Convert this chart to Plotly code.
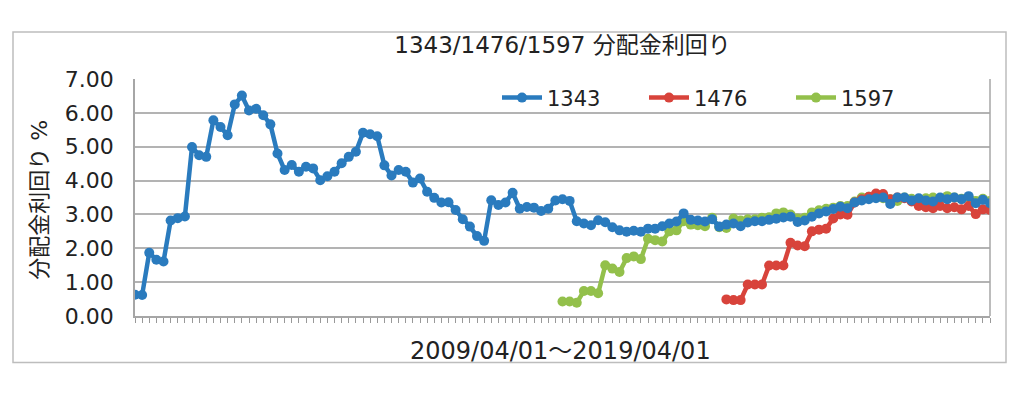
import pandas as pd
import plotly.graph_objects as go

# Monthly observations 2009/04 .. 2019/04 (121 months)
months = [d.strftime("%Y/%m/%d") for d in pd.date_range("2009-04-01", "2019-04-01", freq="MS")]

y_1343 = [0.63, 0.62, 1.87, 1.66, 1.61, 2.82, 2.89, 2.94, 4.99, 4.75,
          4.70, 5.78, 5.58, 5.34, 6.25, 6.51, 6.07, 6.12, 5.93, 5.66,
          4.80, 4.31, 4.46, 4.26, 4.41, 4.36, 4.01, 4.13, 4.26, 4.51,
          4.70, 4.85, 5.41, 5.37, 5.31, 4.45, 4.15, 4.31, 4.26, 3.94,
          4.06, 3.67, 3.49, 3.35, 3.36, 3.13, 2.86, 2.64, 2.36, 2.22,
          3.42, 3.28, 3.35, 3.64, 3.17, 3.22, 3.20, 3.10, 3.17, 3.41,
          3.45, 3.40, 2.80, 2.73, 2.68, 2.83, 2.77, 2.62, 2.53, 2.49,
          2.52, 2.49, 2.58, 2.58, 2.65, 2.73, 2.79, 3.03, 2.84, 2.82,
          2.79, 2.86, 2.64, 2.70, 2.73, 2.65, 2.76, 2.80, 2.80, 2.84,
          2.87, 2.91, 2.93, 2.78, 2.82, 2.93, 3.03, 3.09, 3.16, 3.23,
          3.18, 3.35, 3.41, 3.45, 3.48, 3.50, 3.31, 3.50, 3.50, 3.41,
          3.48, 3.41, 3.38, 3.50, 3.45, 3.50, 3.45, 3.54, 3.33, 3.43,
          3.33]

y_1476 = [None] * 83 + [
          0.49, 0.47, 0.47, 0.93, 0.93, 0.93, 1.49, 1.49, 1.49, 2.16,
          2.08, 2.06, 2.50, 2.55, 2.58, 2.88, 3.00, 2.99, 3.35, 3.45,
          3.52, 3.62, 3.60, 3.45, 3.50, 3.48, 3.38, 3.25, 3.21, 3.18,
          3.25, 3.18, 3.21, 3.15, 3.25, 3.01, 3.15, 3.13]

y_1597 = [None] * 60 + [
          0.43, 0.43, 0.39, 0.74, 0.74, 0.67, 1.50, 1.40, 1.30, 1.71,
          1.76, 1.68, 2.28, 2.24, 2.20, 2.50, 2.53, 2.80, 2.70, 2.68,
          2.65, 2.90, 2.62, 2.60, 2.88, 2.82, 2.86, 2.86, 2.90, 2.92,
          3.03, 3.06, 3.00, 2.88, 2.90, 3.06, 3.12, 3.17, 3.20, 3.25,
          3.25, 3.38, 3.50, 3.52, 3.52, 3.48, 3.45, 3.40, 3.50, 3.46,
          3.45, 3.48, 3.50, 3.46, 3.54, 3.50, 3.46, 3.50, 3.40, 3.46,
          3.40]

names = ["1343", "1476", "1597"]
colors = {"1343": "#2A7BBE", "1476": "#D8433B", "1597": "#93C04B"}
series = {"1343": y_1343, "1476": y_1476, "1597": y_1597}
ranks = {"1343": 1, "1476": 2, "1597": 3}

FONT = "DejaVu Sans, Noto Sans CJK JP"
TXT = "#222222"

fig = go.Figure()
for n in ["1597", "1476", "1343"]:
    fig.add_trace(go.Scatter(
        x=months, y=series[n], name=n, mode="lines+markers",
        line=dict(color=colors[n], width=4.5),
        marker=dict(color=colors[n], size=10, symbol="circle"),
        legendrank=ranks[n],
    ))

OFF = 8  # page body margin
W, H = 1024, 399
# reference plot area: x 135..990, y 79..316.5
L = 135 - OFF
T = 79 - OFF
pw, ph = 855, 237.5
R = W - L - pw
B = H - T - ph

def px(x):
    return (x - OFF - L) / pw

def py(y):
    return (T + ph - (y - OFF)) / ph

fig.update_layout(
    width=W, height=H,
    margin=dict(l=L, r=R, t=T, b=B, pad=0, autoexpand=False),
    paper_bgcolor="white", plot_bgcolor="white",
    font=dict(family=FONT, color=TXT, size=18),
    showlegend=True,
    legend=dict(orientation="h", x=px(497), y=py(98), xanchor="left", yanchor="middle",
                font=dict(family=FONT, size=21, color=TXT),
                entrywidth=92, entrywidthmode="pixels",
                bgcolor="rgba(0,0,0,0)", itemwidth=40, traceorder="normal"),
    title=dict(text="1343/1476/1597 分配金利回り", x=0.5, xref="paper", xanchor="center",
               y=1 - (45 - OFF) / H, yref="container", yanchor="middle",
               font=dict(family=FONT, size=23, color=TXT)),
)

fig.update_xaxes(
    type="category", range=[0, len(months) - 1], automargin=False,
    showticklabels=False, ticks="outside", ticklen=5, tickwidth=1, tickcolor="#999999",
    dtick=1, showline=True, linecolor="#a6a6a6", linewidth=2,
    showgrid=False, zeroline=False, mirror=False,
)
fig.update_yaxes(
    range=[0, 7], dtick=1, tickformat=".2f", automargin=False,
    tickfont=dict(family=FONT, size=22, color=TXT),
    showgrid=True, gridcolor="#b3b3b3", gridwidth=1.5,
    showline=True, linecolor="#a6a6a6", linewidth=1.5,
    zeroline=False, ticks="", ticklabelstandoff=15,
)

# right edge of the plot area
fig.add_shape(type="line", xref="paper", yref="paper", x0=1, x1=1, y0=0, y1=1,
              line=dict(color="#a6a6a6", width=1.5))
# chart-area border
fig.add_shape(type="rect", xref="paper", yref="paper",
              x0=px(13), x1=px(1006), y0=py(363), y1=py(32),
              line=dict(color="#bdbdbd", width=1.5), fillcolor="rgba(0,0,0,0)", layer="below")

fig.add_annotation(text="2009/04/01～2019/04/01", xref="paper", yref="paper",
                   x=px(560), y=py(352), xanchor="center", yanchor="middle", showarrow=False,
                   font=dict(family=FONT, size=24, color=TXT))
fig.add_annotation(text="分配金利回り %", xref="paper", yref="paper",
                   x=px(40), y=py(200), xanchor="center", yanchor="middle", showarrow=False,
                   textangle=-90, font=dict(family=FONT, size=22, color=TXT))

fig.write_html("out.html")
